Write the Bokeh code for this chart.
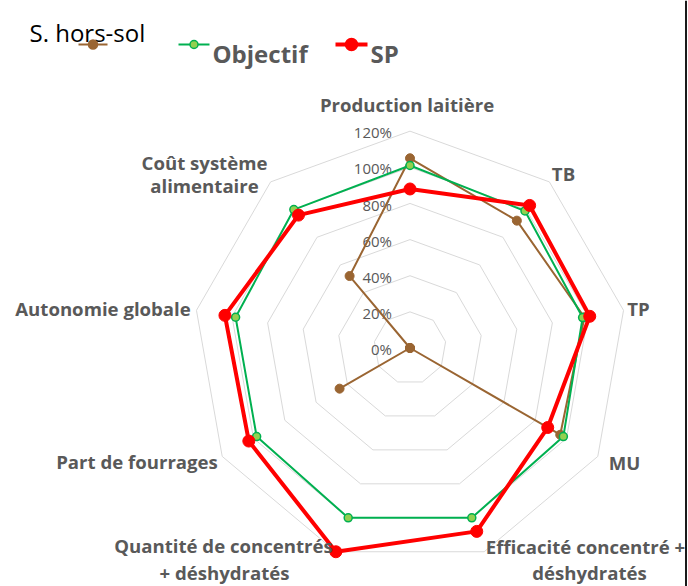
import numpy as np
from bokeh.plotting import figure
from bokeh.models import Range1d
from bokeh.core.properties import value
from bokeh.embed import file_html
from bokeh.resources import INLINE

# ---------------- data ----------------
categories = ["Production laitière", "TB", "TP", "MU",
              "Efficacité concentré + déshydratés",
              "Quantité de concentrés + déshydratés",
              "Part de fourrages", "Autonomie globale",
              "Coût système alimentaire"]
serie_sans_nom = [105, 92, 98, 96, 0, 0, 45, 0, 52]
objectif = [101, 99, 97, 98, 100, 100, 98, 98, 100]
sp = [88, 103, 101, 88, 108, 120, 103, 104, 96]
tick_values = [0, 20, 40, 60, 80, 100, 120]
tick_labels = ["0%", "20%", "40%", "60%", "80%", "100%", "120%"]
title = "S. hors-sol"
legend_names = ["", "Objectif", "SP"]

# ---------------- layout ----------------
W, H = 688, 586
OX, OY = 0, 0
S = 1.807              # pixels per percentage point
CX, CY = 409.5, 347.5  # centre of radar in picture pixels

def d(sx, sy):
    return (sx - CX) / S, (CY - sy) / S

p = figure(width=W, height=H,
           x_range=Range1d((OX - CX) / S, (OX + W - CX) / S),
           y_range=Range1d((CY - OY - H) / S, (CY - OY) / S),
           output_backend="svg", toolbar_location=None,
           x_axis_type=None, y_axis_type=None, min_border=0,
           outline_line_color=None, background_fill_color="white",
           border_fill_color="white")
p.grid.visible = False

n = len(categories)
ang = np.deg2rad(90 - 360.0 / n * np.arange(n))
cosa, sina = np.cos(ang), np.sin(ang)

# grid polygons
gx = [list(t * cosa) for t in tick_values[1:]]
gy = [list(t * sina) for t in tick_values[1:]]
p.patches(gx, gy, fill_color=None, line_color="#d9d9d9", line_width=1)

# tick labels
tx0, _ = d(391.5, 0)
p.text(x=[tx0] * len(tick_values), y=[t - 0.6 for t in tick_values], text=tick_labels,
       text_align="right", text_baseline="middle", text_color="#595959",
       text_font=value("Open Sans"), text_font_size="15px")

# series
BROWN, GREEN, GFILL, RED = "#9a6532", "#00b050", "#92d050", "#ff0000"

def draw(vals, color, lw, size, fill, lc, mlw):
    r = np.array(vals, float)
    x, y = r * cosa, r * sina
    p.line(np.append(x, x[0]), np.append(y, y[0]), line_color=color, line_width=lw)
    p.scatter(x, y, size=size, fill_color=fill, line_color=lc, line_width=mlw)

draw(serie_sans_nom, BROWN, 2, 9, BROWN, BROWN, 1)
draw(objectif, GREEN, 2, 8, GFILL, GREEN, 1.5)
draw(sp, RED, 4, 12, RED, RED, 1)

# category labels (lines, picture-pixel centres)
label_lines = [
    ("Production laitière", 406.5, 104),
    ("TB", 563, 173),
    ("TP", 638, 308),
    ("MU", 624, 462),
    ("Efficacité concentré +", 585, 546),
    ("déshydratés", 589, 571.5),
    ("Quantité de concentrés", 223, 545),
    ("+ déshydratés", 224, 571.5),
    ("Part de fourrages", 136.5, 461),
    ("Autonomie globale", 102.5, 308),
    ("Coût système", 204, 161.5),
    ("alimentaire", 204, 185),
]
lx, ly = zip(*[d(sx, sy) for _, sx, sy in label_lines])
p.text(x=list(lx), y=list(ly), text=[t for t, _, _ in label_lines],
       text_align="center", text_baseline="middle", text_color="#595959",
       text_font=value("Open Sans"), text_font_style="bold", text_font_size="18.6px")

# title
tx, ty = d(29, 31.7)
p.text(x=[tx], y=[ty], text=[title], text_align="left", text_baseline="alphabetic",
       text_color="black", text_font=value("Open Sans"), text_font_size="24px")

# legend (drawn manually)
leg_y = 44
leg_items = [(78, 107, BROWN, 2, 9, BROWN, BROWN),
             (178, 209, GREEN, 2, 8, GFILL, GREEN),
             (335, 367, RED, 4, 12, RED, RED)]
for (x0, x1, c, lw, sz, fc, lc), name in zip(leg_items, legend_names):
    a, yy = d(x0, leg_y)
    b, _ = d(x1, leg_y)
    p.line([a, b], [yy, yy], line_color=c, line_width=lw)
    p.scatter([(a + b) / 2], [yy], size=sz, fill_color=fc, line_color=lc, line_width=1.5)
    if name:
        nx, ny = d(x1 + 3, 53.3)
        p.text(x=[nx], y=[ny], text=[name], text_align="left", text_baseline="alphabetic",
               text_color="#595959", text_font=value("Open Sans"), text_font_style="bold",
               text_font_size="24px")

# right border line of the original frame
bx, by0 = d(685.5, 0)
_, by1 = d(685.5, 586)
p.segment(x0=[bx], y0=[by0], x1=[bx], y1=[by1], line_color="#1a1a1a", line_width=2)

open("out.html", "w").write(file_html(p, INLINE))
